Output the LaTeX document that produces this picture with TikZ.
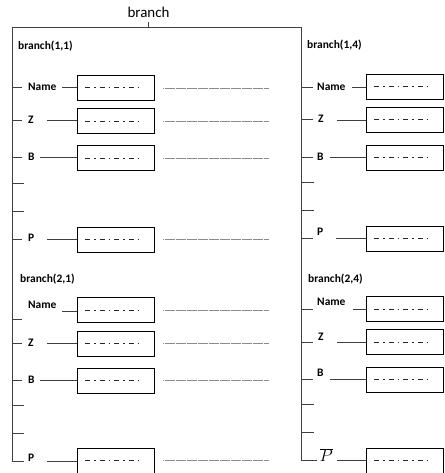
\documentclass[tikz,border=0pt]{standalone}
\usepackage{fontspec}
\setmainfont{Carlito}
\begin{document}
\begin{tikzpicture}[x=1bp,y=-1bp,
  conn/.style={line width=0.9bp, black!75},
  valbox/.style={draw, line width=0.9bp, minimum width=76.5bp, minimum height=25bp, inner sep=0pt, anchor=north west},
  lbl/.style={font=\fontsize{11.5}{12}\selectfont\bfseries, inner sep=0pt, anchor=west},
  dashdot/.style={line width=0.9bp, black!85, dash pattern=on 5bp off 4bp on 1.5bp off 4bp},
  guide/.style={black!45, line width=0.5bp, dash pattern=on 0.5bp off 0.6bp}]
\useasboundingbox (0,0) rectangle (445,473);
% title and frame
\node[font=\fontsize{15}{16}\selectfont, inner sep=0pt] (title) at (148.5,12) {branch};
\coordinate (tl) at (12,27.7);
\coordinate (tr) at (301,27.7);
\coordinate (tt) at (148,27.7);
\coordinate (ttop) at (148,22);
\draw[conn] (tt) -- (ttop);
% section labels
\node[lbl] (s11) at (18,46) {branch(1,1)};
\node[lbl] (s21) at (20,279) {branch(2,1)};
\node[lbl] (s14) at (307,45) {branch(1,4)};
\node[lbl] (s24) at (308,279) {branch(2,4)};
% rows
\foreach \id/\vx/\tx/\ty/\lab/\lx/\ly/\sx/\sy/\bx/\by in {
  11n/12/22/87/Name/28/87/62/87/77/75,
  11z/12/22/120/Z/28/120/47/120/77/108.5,
  11b/12/22/157/B/28/157/40/157/77/145.5,
  11p/12/22/239/P/28/238/47/239/77/226.5,
  21n/12/22/319/Name/28/305/62/311.5/77/297,
  21z/12/22/343/Z/28/343/47/343/77/330.5,
  21b/12/22/380.5/B/28/380/40/380.5/77/367.5,
  21p/12/24/461/P/28/458/47/461/77/447.5,
  14n/301/313/87/Name/317/87/352/87/366/74,
  14z/301/313/119.5/Z/318/119/337/120/366/107,
  14b/301/313/157/B/317/157/330/157/366/145,
  14p/301/313/238.5/P/317/232/336/238.5/366/225.5,
  24n/301/313/309.5/Name/317/302/352.5/309.5/366/296,
  24z/301/313/342/Z/318/336.5/337/342/366/329,
  24b/301/313/379.5/B/317/373/330/379.5/366/366.5,
  24p/301/316.7/460.7/{\normalfont\fontsize{16}{16}\selectfont$\overline{P}$}/319.5/455/337/460.5/366/447.5}{
  \coordinate (v\id) at (\vx,\ty);
  \coordinate (t\id) at (\tx,\ty);
  \draw[conn] (v\id) -- (t\id);
  \node[lbl] (l\id) at (\lx,\ly) {\lab};
  \node[valbox] (b\id) at (\bx,\by) {};
  \coordinate (s\id) at (\sx,\sy);
  \draw[conn] (s\id) -- (b\id.west |- s\id);
  \draw[dashdot] ([xshift=8bp]b\id.west) -- ([xshift=-15.5bp]b\id.east);
}
% dotted guide lines (left column)
\foreach \id in {11n,11z,11b,11p,21n,21z,21b,21p}{
  \draw[guide] ([xshift=9bp]b\id.east) -- ++(105bp,0);
}
% empty ticks
\foreach \i/\vx/\tx/\y in {a/12/24/183.3, b/12/24/211.3, c/12/24/405.7, d/12/24/433.3,
  e/301/314/182.3, f/301/314/210, g/301/314/404.3, h/301/314/432.3}{
  \coordinate (ev\i) at (\vx,\y);
  \coordinate (ee\i) at (\tx,\y);
  \draw[conn] (ev\i) -- (ee\i);
}
% main frame
\draw[conn] (v21p) -- (tl) -- (tr) -- (v24p);
\end{tikzpicture}
\end{document}
